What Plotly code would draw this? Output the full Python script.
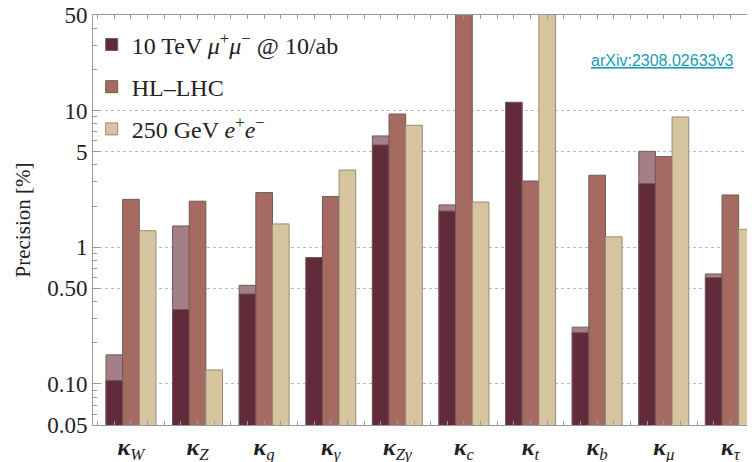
import plotly.graph_objects as go

# ---- data ----
categories = ["W", "Z", "g", "γ", "Zγ", "c", "t", "b", "μ", "τ"]
tick_labels = ["<b><i>κ</i></b><sub><i>%s</i></sub>" % c for c in categories]
mu10 = [0.106, 0.35, 0.455, 0.84, 5.6, 1.84, 11.5, 0.237, 2.92, 0.60]
mu10_alt = [0.163, 1.43, 0.526, None, 6.52, 2.04, None, 0.26, 5.03, 0.637]
hllhc = [2.24, 2.17, 2.51, 2.35, 9.43, 100.0, 3.05, 3.36, 4.6, 2.41]
ee250 = [1.32, 0.1265, 1.48, 3.67, 7.8, 2.14, 100.0, 1.19, 8.97, 1.35]

names = ["10 TeV <i>μ</i><sup>+</sup><i>μ</i><sup>−</sup> @ 10/ab",
         "HL–LHC",
         "250 GeV <i>e</i><sup>+</sup><i>e</i><sup>−</sup>"]

y_tickvals = [0.05, 0.1, 0.5, 1, 5, 10, 50]
y_ticktext = ["0.05", "0.10", "0.50", "1", "5", "10", "50"]
y_minor = [0.06, 0.07, 0.08, 0.09, 0.2, 0.3, 0.4, 0.6, 0.7, 0.8, 0.9,
           2, 3, 4, 6, 7, 8, 9, 20, 30, 40]

c_dark = "#632a3b"
c_light = "#a47f87"
c_hl = "#a56b62"
c_ee = "#d7c59f"
edge = "#6e5d52"

idx = list(range(len(categories)))
w = 0.25

fig = go.Figure()
fig.add_trace(go.Bar(x=[i - w for i in idx], y=mu10_alt, width=w, marker_color=c_light,
                     marker_line=dict(color=edge, width=1), showlegend=False,
                     hoverinfo="skip"))
fig.add_trace(go.Bar(x=[i - w for i in idx], y=mu10, width=w, marker_color=c_dark,
                     marker_line=dict(color=edge, width=1), name=names[0], legendgroup="a"))
fig.add_trace(go.Bar(x=idx, y=hllhc, width=w, marker_color=c_hl,
                     marker_line=dict(color=edge, width=1), name=names[1], legendgroup="b"))
fig.add_trace(go.Bar(x=[i + w for i in idx], y=ee250, width=w, marker_color=c_ee,
                     marker_line=dict(color="#9a8a78", width=1), name=names[2], legendgroup="c"))

serif = "Liberation Serif"
fig.update_layout(
    width=747, height=454,
    margin=dict(l=85, r=0, t=7, b=37),
    barmode="overlay",
    plot_bgcolor="white", paper_bgcolor="white",
    font=dict(family=serif, size=22, color="#222"),
    legend=dict(x=-0.002, y=0.982, xanchor="left", yanchor="top",
                font=dict(family=serif, size=24, color="#222"),
                bgcolor="rgba(0,0,0,0)", tracegroupgap=8, itemwidth=30),
    xaxis=dict(range=[-0.57, 9.37], tickmode="array", tickvals=idx, ticktext=tick_labels,
               tickfont=dict(family=serif, size=24, color="#222"),
               automargin=False, ticklabeloverflow="allow",
               showgrid=False, zeroline=False, showline=True, linecolor="#999",
               linewidth=1, mirror="ticks", ticks="inside", ticklen=4, tickcolor="#999",
               minor=dict(dtick=0.25, tick0=0, ticks="inside", ticklen=4, tickcolor="#999")),
    yaxis=dict(type="log", range=[-1.30103, 1.69897], tickmode="array",
               tickvals=y_tickvals, ticktext=y_ticktext, automargin=False,
               ticklabeloverflow="allow",
               tickfont=dict(family=serif, size=23, color="#222"),
               title=dict(text="Precision [%]", font=dict(family=serif, size=21, color="#222"),
                          standoff=10),
               showgrid=True, gridcolor="#bbb", griddash="dot", gridwidth=1,
               zeroline=False, showline=True, linecolor="#999", linewidth=1,
               mirror="ticks", ticks="inside", ticklen=7, tickcolor="#999",
               minor=dict(tickmode="array", tickvals=y_minor, ticks="inside",
                          ticklen=4, tickcolor="#999", showgrid=False)),
    annotations=[dict(text="<a href='https://arxiv.org/abs/2308.02633v3' style='color:#1a9cb0'><u>arXiv:2308.02633v3</u></a>",
                      xref="paper", yref="paper", x=0.97, y=0.89, xanchor="right",
                      yanchor="middle", showarrow=False,
                      font=dict(family="Liberation Sans", size=16, color="#1a9cb0"))],
)

fig.write_html("out.html")
